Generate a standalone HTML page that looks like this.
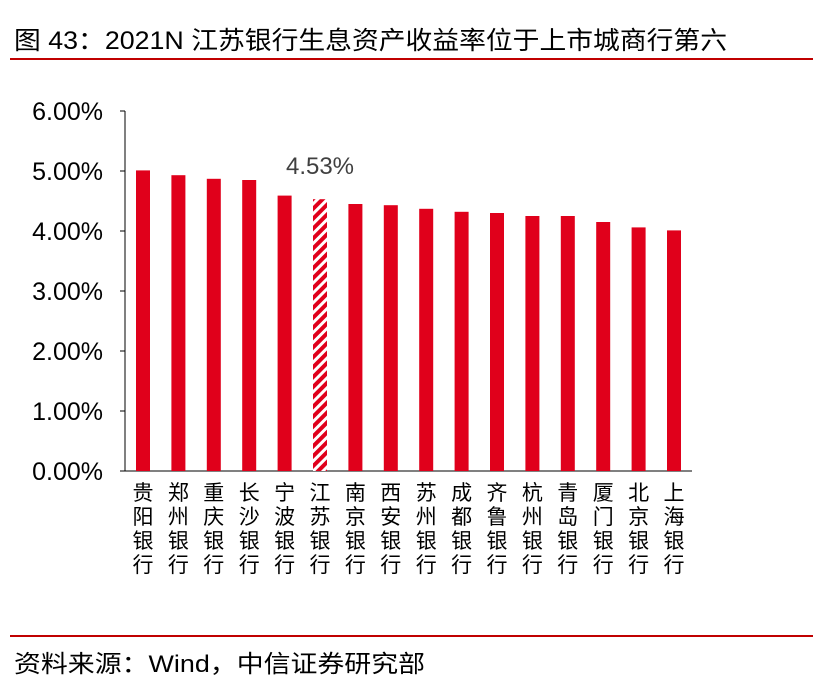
<!DOCTYPE html>
<html><head><meta charset="utf-8"><style>
body{margin:0;background:#fff;width:813px;height:691px;overflow:hidden;font-family:"Liberation Sans","Noto Sans CJK SC",sans-serif}
</style></head><body>
<svg width="813" height="691">
<defs><pattern id="hatch" width="7" height="7" patternUnits="userSpaceOnUse" patternTransform="rotate(45)">
<rect width="7" height="7" fill="#e0001b"/><rect x="0" width="3" height="7" fill="#fff"/></pattern></defs>
<text x="14" y="49" font-size="25" textLength="713" lengthAdjust="spacingAndGlyphs" fill="#000">图 43：2021N 江苏银行生息资产收益率位于上市城商行第六</text>
<line x1="10" y1="59" x2="813" y2="59" stroke="#c00000" stroke-width="2"/>
<line x1="10" y1="636" x2="813" y2="636" stroke="#c00000" stroke-width="2"/>
<text x="14" y="672" font-size="24" textLength="411" lengthAdjust="spacingAndGlyphs" fill="#000">资料来源：Wind，中信证券研究部</text>
<g id="plot"></g>
</svg>
<script>
const categories=["贵阳银行","郑州银行","重庆银行","长沙银行","宁波银行","江苏银行","南京银行","西安银行","苏州银行","成都银行","齐鲁银行","杭州银行","青岛银行","厦门银行","北京银行","上海银行"];
const values=[5.01,4.93,4.87,4.85,4.59,4.53,4.45,4.43,4.37,4.32,4.30,4.25,4.25,4.15,4.06,4.01];
const yTicks=[0,1,2,3,4,5,6];
const highlight="江苏银行";
const NS="http://www.w3.org/2000/svg";
const g=document.getElementById('plot');
const x0=125,yBase=471,pxPer=60,step=35.4,bw=14;
const y=v=>yBase-v*pxPer;
const xc=i=>x0+18+i*step;
function mk(t,a,txt){const e=document.createElementNS(NS,t);for(const k in a)e.setAttribute(k,a[k]);if(txt!=null)e.textContent=txt;g.appendChild(e);return e;}
let ax=mk('line',{x1:x0,y1:y(6),x2:x0,y2:yBase,stroke:'#000','stroke-width':1});


let xa=mk('line',{x1:x0,y1:yBase,x2:x0+18+15*step+18,y2:yBase,stroke:'#000','stroke-width':1});


yTicks.forEach(t=>{
 let tk=mk('line',{x1:x0-5,y1:y(t),x2:x0,y2:y(t),stroke:'#000'});
 
 
 let l=mk('text',{x:x0-22,y:y(t)+9,'font-size':25,'text-anchor':'end',fill:'#000'},t.toFixed(2)+'%');
 
 
});
categories.forEach((c,i)=>{
 const v=values[i];
 let r=mk('rect',{x:xc(i)-bw/2,y:y(v),width:bw,height:v*pxPer,fill:c===highlight?'url(#hatch)':'#e0001b'});
 
 
 const t=mk('text',{'font-size':21,'text-anchor':'middle',fill:'#000'});
 
 
 [...c].forEach((ch,j)=>{const s=document.createElementNS(NS,'tspan');s.setAttribute('x',xc(i));s.setAttribute('y',yBase+29+j*24);s.textContent=ch;t.appendChild(s);});
 if(c===highlight){
  let vl=mk('text',{x:xc(i),y:y(v)-25,'font-size':24,'text-anchor':'middle',fill:'#404040'},v.toFixed(2)+'%');
  
  
 }
});
</script>
</body></html>
